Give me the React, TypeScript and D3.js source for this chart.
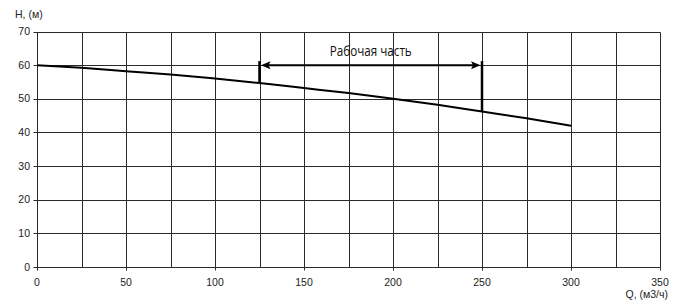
import React from "react";
import * as d3 from "d3";

const qValues = [0, 25, 50, 75, 100, 125, 150, 175, 200, 225, 250, 275, 300];
const hValues = [60, 59.2, 58.2, 57.2, 56, 54.7, 53.2, 51.7, 50, 48.2, 46.2, 44.2, 42];
const xTicks = [0, 50, 100, 150, 200, 250, 300, 350];
const xGrid = [0, 25, 50, 75, 100, 125, 150, 175, 200, 225, 250, 275, 300, 325, 350];
const yTicks = [0, 10, 20, 30, 40, 50, 60, 70];
const workRange = [125, 250];
const workArrowH = 60;
const workTopH = 61.2;
const workLabel = "Рабочая часть";
const yTitle = "H, (м)";
const xTitle = "Q, (м3/ч)";

const W = 676;
const H = 301;

export default function App() {
  const x = d3.scaleLinear().domain([0, 350]).range([37, 660]);
  const y = d3.scaleLinear().domain([0, 70]).range([267, 31.5]);
  const pts = qValues.map((q, i) => [q, hValues[i]] as [number, number]);
  const line = d3
    .line<[number, number]>()
    .x((d) => x(d[0]))
    .y((d) => y(d[1]))
    .curve(d3.curveMonotoneX);
  const hAt = (q: number) => {
    const i = qValues.indexOf(q);
    return hValues[i];
  };
  const px = (v: number) => Math.round(v) + 0.5;
  const font = "Liberation Sans, Arial, sans-serif";
  const ax = x(workRange[0]);
  const bx = x(workRange[1]);
  const ay = y(workArrowH);
  return (
    <svg
      width={W}
      height={H}
      style={{ position: "absolute", left: 0, top: 0, background: "#fff" }}
    >
      <rect x={0} y={0} width={W} height={H} fill="#fff" />
      {xGrid.map((q) => (
        <line
          key={"vx" + q}
          x1={px(x(q))}
          x2={px(x(q))}
          y1={px(y(70))}
          y2={px(y(0))}
          stroke="#2a2a2a"
          strokeWidth={1}
        />
      ))}
      {yTicks.map((h) => (
        <line
          key={"hy" + h}
          x1={px(x(0)) - 4}
          x2={px(x(350))}
          y1={px(y(h))}
          y2={px(y(h))}
          stroke="#2a2a2a"
          strokeWidth={1}
        />
      ))}
      {xTicks.map((q) => (
        <line
          key={"tx" + q}
          x1={px(x(q))}
          x2={px(x(q))}
          y1={px(y(0))}
          y2={px(y(0)) + 3}
          stroke="#2a2a2a"
          strokeWidth={1}
        />
      ))}
      {yTicks.map((h) => (
        <text
          key={"ly" + h}
          x={30}
          y={y(h)}
          dy="0.35em"
          textAnchor="end"
          fontFamily={font}
          fontSize={10.5}
          fill="#222"
        >
          {h}
        </text>
      ))}
      {xTicks.map((q) => (
        <text
          key={"lx" + q}
          x={x(q)}
          y={282}
          dy="0.35em"
          textAnchor="middle"
          fontFamily={font}
          fontSize={10.5}
          fill="#222"
        >
          {q}
        </text>
      ))}
      <text x={15} y={14} dy="0.35em" fontFamily={font} fontSize={10.5} fill="#222">
        {yTitle}
      </text>
      <text
        x={668}
        y={294}
        dy="0.35em"
        textAnchor="end"
        fontFamily={font}
        fontSize={10.5}
        fill="#222"
      >
        {xTitle}
      </text>
      <path d={line(pts) || ""} fill="none" stroke="#000" strokeWidth={2} />
      {workRange.map((q) => (
        <line
          key={"wb" + q}
          x1={x(q)}
          x2={x(q)}
          y1={y(workTopH)}
          y2={y(hAt(q))}
          stroke="#000"
          strokeWidth={2.5}
        />
      ))}
      <line x1={ax + 8} x2={bx - 8} y1={ay} y2={ay} stroke="#000" strokeWidth={2} />
      <path
        d={`M${ax + 1.5},${ay} L${ax + 11},${ay - 4} L${ax + 9},${ay} L${ax + 11},${ay + 4} Z`}
        fill="#000"
      />
      <path
        d={`M${bx - 1.5},${ay} L${bx - 11},${ay - 4} L${bx - 9},${ay} L${bx - 11},${ay + 4} Z`}
        fill="#000"
      />
      <text
        x={(ax + bx) / 2}
        y={51}
        dy="0.35em"
        textAnchor="middle"
        fontFamily="Open Sans, Noto Sans, sans-serif"
        fontSize={14}
        textLength={82}
        lengthAdjust="spacingAndGlyphs"
        fill="#111"
      >
        {workLabel}
      </text>
    </svg>
  );
}
